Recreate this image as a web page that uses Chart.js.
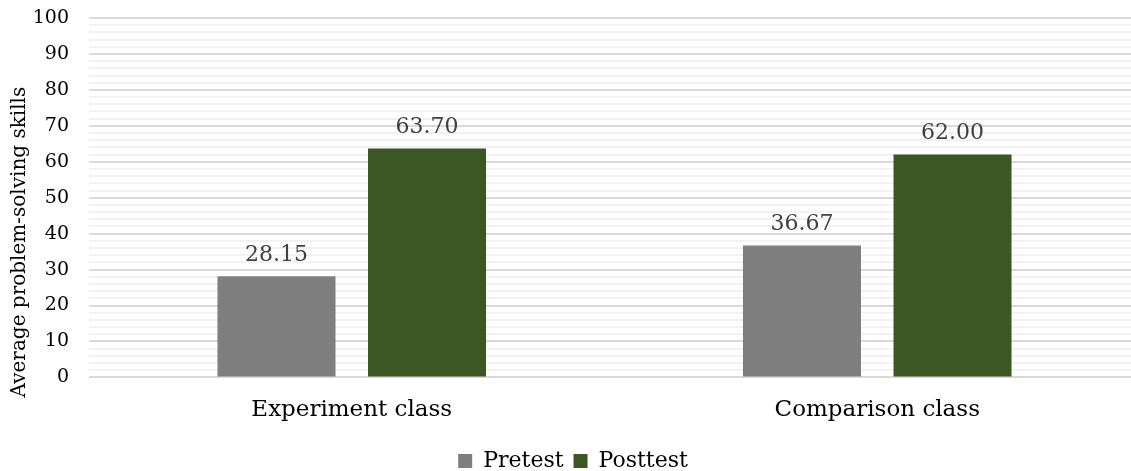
<!DOCTYPE html>
<html>
<head>
<meta charset="utf-8">
<script src="https://cdn.jsdelivr.net/npm/chart.js@4.4.0/dist/chart.umd.min.js"></script>
<style>
  html, body { margin: 0; padding: 0; background: #fff; overflow: hidden; }
  #wrap { width: 1140px; height: 471px; }
</style>
</head>
<body>
<div id="wrap"><canvas id="chart"></canvas></div>
<script>
// chart data
const categories = ['Experiment class', 'Comparison class'];
const seriesNames = ['Pretest', 'Posttest'];
const pretest = [28.15, 36.67];
const posttest = [63.70, 62.00];
const yTicks = [0, 10, 20, 30, 40, 50, 60, 70, 80, 90, 100];
const yTitle = 'Average problem-solving skills';

const FONT = 'DejaVu Serif';

// draws the value above each bar
const valueLabels = {
    id: 'valueLabels',
    afterDatasetsDraw(chart) {
        const ctx = chart.ctx;
        ctx.save();
        ctx.font = '22px "' + FONT + '"';
        ctx.fillStyle = '#404040';
        ctx.textAlign = 'center';
        ctx.textBaseline = 'bottom';
        chart.data.datasets.forEach((ds, i) => {
            chart.getDatasetMeta(i).data.forEach((bar, j) => {
                ctx.fillText(ds.data[j].toFixed(2), bar.x, bar.y - 10);
            });
        });
        ctx.restore();
    }
};

// y title sits low in the original, so draw it ourselves (space is reserved by the hidden axis title)
const yTitleLow = {
    id: 'yTitleLow',
    afterDraw(chart) {
        const ctx = chart.ctx;
        const y = chart.scales.y;
        ctx.save();
        ctx.font = '20px "' + FONT + '"';
        ctx.fillStyle = '#000';
        ctx.translate(20, y.bottom + 20);
        ctx.rotate(-Math.PI / 2);
        ctx.textAlign = 'left';
        ctx.textBaseline = 'middle';
        ctx.fillText(yTitle, 0, 0);
        ctx.restore();
    }
};

new Chart(document.getElementById('chart'), {
    type: 'bar',
    data: {
        labels: categories,
        datasets: [
            { label: seriesNames[0], data: pretest, backgroundColor: '#7f7f7f' },
            { label: seriesNames[1], data: posttest, backgroundColor: '#3a5724' }
        ]
    },
    options: {
        responsive: true,
        maintainAspectRatio: false,
        animation: false,
        categoryPercentage: 0.573,
        barPercentage: 0.784,
        layout: { padding: { top: 0, left: 6, right: 0, bottom: -11 } },
        scales: {
            x: {
                grid: { display: false },
                border: { display: false },
                ticks: { color: '#000', padding: 11, font: { family: FONT, size: 23 } },
                afterFit: s => { s.height += 5; }
            },
            y: {
                min: 0,
                max: 100,
                border: { display: false },
                grid: {
                    drawTicks: false,
                    color: c => yTicks.includes(c.tick.value) ? '#d9d9d9' : '#f2f2f2',
                    lineWidth: 2
                },
                ticks: {
                    stepSize: 2,
                    maxTicksLimit: 60,
                    autoSkip: false,
                    padding: 20,
                    color: '#000',
                    font: { family: FONT, size: 19 },
                    callback: v => yTicks.includes(v) ? v : ''
                },
                title: {
                    display: true,
                    text: yTitle,
                    color: 'rgba(0,0,0,0)',
                    padding: { top: 0, bottom: 3 },
                    font: { family: FONT, size: 20 }
                },
                afterFit: s => {
                    s.width = 83;
                    s.paddingTop = 18;
                    s.paddingBottom = 0;
                }
            }
        },
        plugins: {
            legend: {
                position: 'bottom',
                labels: {
                    boxWidth: 14,
                    boxHeight: 14,
                    padding: 10,
                    color: '#000',
                    font: { family: FONT, size: 22 }
                }
            },
            tooltip: { enabled: false }
        }
    },
    plugins: [valueLabels, yTitleLow]
});
</script>
</body>
</html>
